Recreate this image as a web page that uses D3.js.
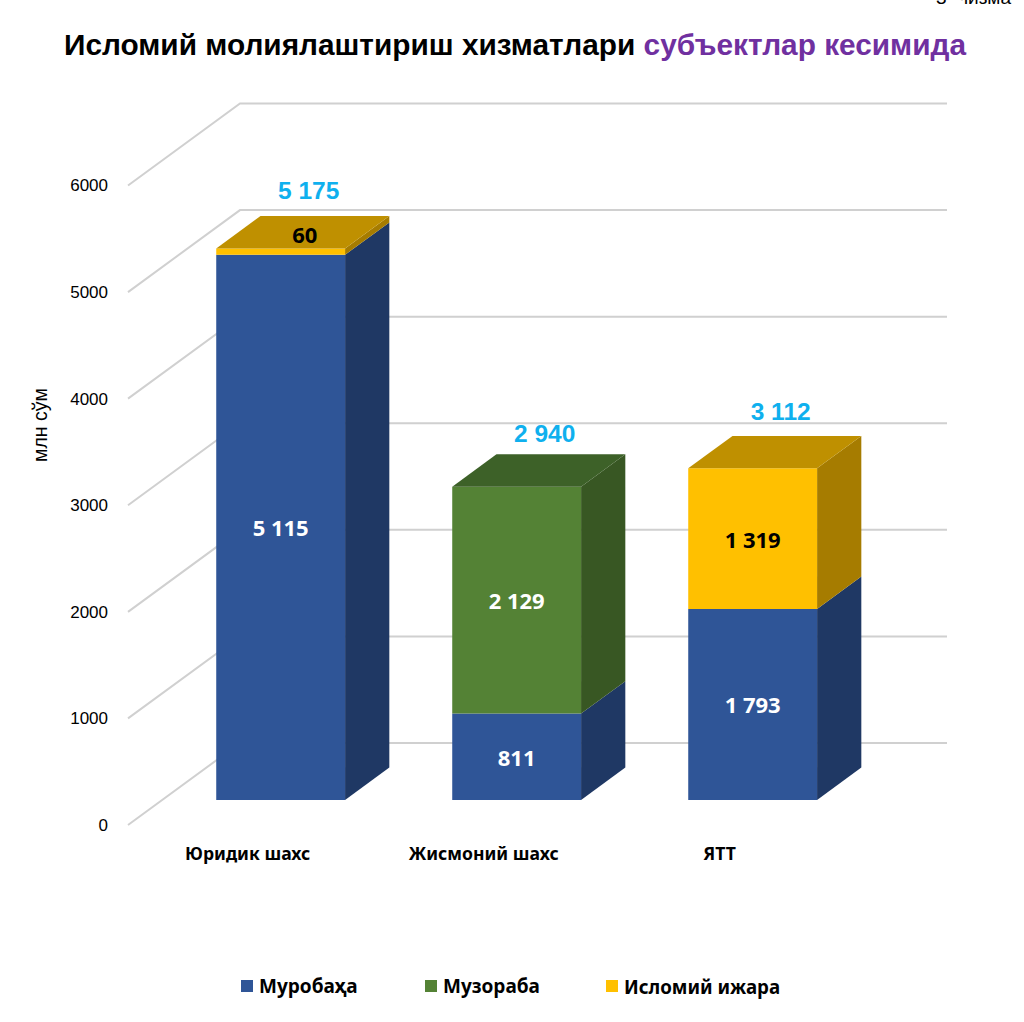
<!DOCTYPE html>
<html>
<head>
<meta charset="utf-8">
<script src="https://cdn.jsdelivr.net/npm/d3@7/dist/d3.min.js"></script>
<style>
html, body { margin: 0; padding: 0; background: #fff; }
svg { display: block; }
</style>
</head>
<body>
<svg id="chart" width="1024" height="1022"></svg>
<script>
// Stacked pseudo-3D columns: Islamic finance services by client type
const categories = ["Юридик шахс", "Жисмоний шахс", "ЯТТ"];
const seriesNames = ["Муробаҳа", "Музораба", "Исломий ижара"];
const murobaha = [5115, 811, 1793];
const muzoraba = [0, 2129, 0];
const ijara = [60, 0, 1319];
const totals = [5175, 2940, 3112];
const totalLabels = ["5 175", "2 940", "3 112"];
const segmentLabels = [["5 115", "811", "1 793"], ["", "2 129", ""], ["60", "", "1 319"]];
const axisTicks = [0, 1000, 2000, 3000, 4000, 5000, 6000];
const titleParts = ["Исломий молиялаштириш хизматлари ", "субъектлар кесимида"];
const axisTitle = "млн сўм";
const headerNote = "3- чизма";

const faceColors = ["#2F5597", "#548235", "#FFC000"];
const sideColors = ["#1F3864", "#385723", "#A67C00"];
const topColors = ["#1F3864", "#3D6128", "#BF9000"];
const labelColors = ["#fff", "#fff", "#000"];

const sans = "'Liberation Sans', Arial, sans-serif";
const bodyFont = "'Noto Sans', 'Open Sans', sans-serif";

const svg = d3.select("#chart");

// Value scale on the front plane; depth shifts any point back and up
const yFront = d3.scaleLinear().domain([0, 6000]).range([825, 185.5]);
const depthX = d3.scaleLinear().domain([0, 1]).range([0, 112]);
const depthY = d3.scaleLinear().domain([0, 1]).range([0, -82]);
const xBand = d3.scaleBand().domain(categories).range([128.5, 836.5]).paddingInner(0.454).paddingOuter(0.227);

const project = (x, v, d) => [x + depthX(d), yFront(v) + depthY(d)];
const poly = pts => "M" + pts.map(p => p.join(",")).join("L") + "Z";

// Walls: left-hand diagonal plus the back gridline for each tick
const grid = svg.append("g").attr("fill", "none").attr("stroke", "#D0D0D0").attr("stroke-width", 2);
axisTicks.forEach(v => {
  const a = project(128, v, 0), b = project(128, v, 1);
  grid.append("path").attr("d", `M${a}L${b}L947,${b[1]}`);
});

// Bars occupy the middle of the floor depth
const d0 = 0.305, d1 = 0.70;
const totalLift = [58, 53, 57];
const barsG = svg.append("g");
categories.forEach((c, i) => {
  const x0 = xBand(c), x1 = x0 + xBand.bandwidth();
  const mx = (x0 + x1) / 2;
  const faceCentre = mx + depthX(d0);
  let base = 0;
  const stack = [murobaha[i], muzoraba[i], ijara[i]];
  let topIdx = 0;
  stack.forEach((v, s) => {
    if (!v) return;
    const top = base + v;
    barsG.append("path").attr("fill", sideColors[s]).attr("d", poly([
      project(x1, base, d0), project(x1, top, d0), project(x1, top, d1), project(x1, base, d1)
    ]));
    barsG.append("path").attr("fill", faceColors[s]).attr("d", poly([
      project(x0, base, d0), project(x1, base, d0), project(x1, top, d0), project(x0, top, d0)
    ]));
    base = top;
    topIdx = s;
  });
  barsG.append("path").attr("fill", topColors[topIdx]).attr("d", poly([
    project(x0, base, d0), project(x1, base, d0), project(x1, base, d1), project(x0, base, d1)
  ]));

  // Segment values; a sliver too thin to hold its label puts it on the top face
  let run = 0;
  stack.forEach((v, s) => {
    if (!v) return;
    const thin = v < 200;
    const p = thin ? project(mx, run + v, (d0 + d1) / 2) : project(mx, run + v / 2, d0);
    svg.append("text").attr("x", thin ? p[0] + 2 : faceCentre).attr("y", thin ? p[1] + 2 : p[1])
      .attr("text-anchor", "middle").attr("dominant-baseline", "central")
      .attr("font-family", bodyFont).attr("font-weight", 700).attr("font-size", 22)
      .attr("fill", thin ? "#000" : labelColors[s]).text(segmentLabels[s][i]);
    run += v;
  });

  // Column total above the top face
  const t = project(mx, totals[i], d0);
  svg.append("text").attr("x", t[0] + 28).attr("y", t[1] - totalLift[i])
    .attr("text-anchor", "middle").attr("dominant-baseline", "central")
    .attr("font-family", sans).attr("font-weight", 700).attr("font-size", 24.5)
    .attr("fill", "#0FB0EE").text(totalLabels[i]);

  // Category label
  svg.append("text").attr("x", faceCentre - 33).attr("y", 853)
    .attr("text-anchor", "middle").attr("dominant-baseline", "central")
    .attr("font-family", bodyFont).attr("font-weight", 700).attr("font-size", 17.6)
    .attr("fill", "#000").text(c);
});

// Value axis, labels only
const axis = d3.axisLeft(yFront).tickValues(axisTicks).tickSize(0).tickPadding(0).tickFormat(d3.format("d"));
const axisG = svg.append("g").attr("transform", "translate(108,0)").call(axis);
axisG.select(".domain").remove();
axisG.selectAll("text").attr("font-family", sans).attr("font-size", 17).attr("fill", "#000");

svg.append("text").attr("transform", "translate(40,425) rotate(-90)")
  .attr("text-anchor", "middle").attr("dominant-baseline", "central")
  .attr("font-family", sans).attr("font-size", 19.5).attr("fill", "#000").text(axisTitle);

// Title in two colours
const title = svg.append("text").attr("x", 64).attr("y", 55)
  .attr("font-family", sans).attr("font-weight", 700).attr("font-size", 29.8);
title.append("tspan").attr("fill", "#000").attr("xml:space", "preserve").text(titleParts[0]);
title.append("tspan").attr("fill", "#7030A0").text(titleParts[1]);

// Page note running off the top edge
svg.append("text").attr("x", 1011).attr("y", 4).attr("text-anchor", "end")
  .attr("font-family", sans).attr("font-size", 19).attr("fill", "#000").text(headerNote);

// Legend
const legendX = [241, 425, 606];
const legendSize = [19, 19, 18.7];
seriesNames.forEach((n, i) => {
  svg.append("rect").attr("x", legendX[i]).attr("y", 980).attr("width", 12).attr("height", 12).attr("fill", faceColors[i]);
  svg.append("text").attr("x", legendX[i] + 18).attr("y", 986).attr("dominant-baseline", "central")
    .attr("font-family", bodyFont).attr("font-weight", 700).attr("font-size", legendSize[i]).attr("fill", "#000").text(n);
});
</script>
</body>
</html>
